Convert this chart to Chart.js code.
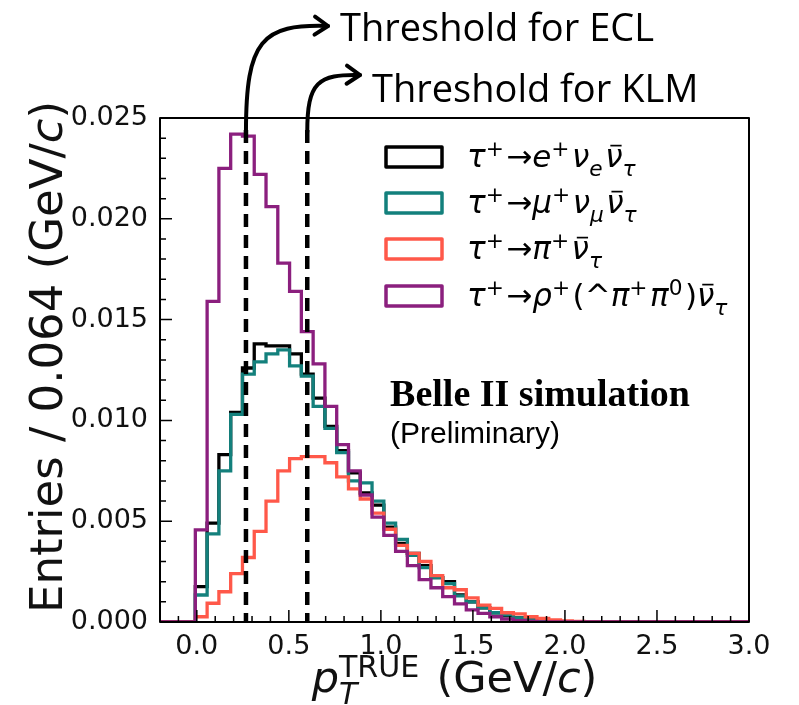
<!DOCTYPE html>
<html>
<head>
<meta charset="utf-8">
<script src="https://cdn.jsdelivr.net/npm/chart.js@4.4.1/dist/chart.umd.min.js"></script>
<style>
  html, body { margin: 0; padding: 0; background: #fff; }
  canvas { display: block; }
</style>
</head>
<body>
<canvas id="plot" width="799" height="705"></canvas>
<script>
// histogram bins: 50 bins of 0.064 GeV/c from -0.2 to 3.0
const binEdges = [-0.200, -0.136, -0.072, -0.008, 0.056, 0.120, 0.184, 0.248, 0.312, 0.376,
  0.440, 0.504, 0.568, 0.632, 0.696, 0.760, 0.824, 0.888, 0.952, 1.016,
  1.080, 1.144, 1.208, 1.272, 1.336, 1.400, 1.464, 1.528, 1.592, 1.656,
  1.720, 1.784, 1.848, 1.912, 1.976, 2.040, 2.104, 2.168, 2.232, 2.296,
  2.360, 2.424, 2.488, 2.552, 2.616, 2.680, 2.744, 2.808, 2.872, 2.936, 3.000];

// entries per bin
const eleVals = [0, 0, 0, 0.00175, 0.0049, 0.0083, 0.0104, 0.0126, 0.0138, 0.0137,
  0.0137, 0.0133, 0.0123, 0.0111, 0.0097, 0.0085, 0.0074, 0.0064, 0.0058, 0.0047,
  0.0039, 0.0034, 0.0028, 0.0022, 0.0020, 0.00134, 0.0010, 0.0007, 0.00045, 0.0003,
  0.0002, 0.0001, 0.00005, 0.00002, 0, 0, 0, 0, 0, 0,
  0, 0, 0, 0, 0, 0, 0, 0, 0, 0];
const muVals = [0, 0, 0, 0.00134, 0.00437, 0.0075, 0.0103, 0.0123, 0.0129, 0.0133,
  0.0135, 0.0127, 0.0122, 0.0107, 0.0096, 0.0084, 0.0070, 0.0069, 0.0060, 0.0049,
  0.0041, 0.0033, 0.0027, 0.0022, 0.0019, 0.0013, 0.0010, 0.0007, 0.00046, 0.00035,
  0.0002, 0.0001, 0.00005, 0.00002, 0, 0, 0, 0, 0, 0,
  0, 0, 0, 0, 0, 0, 0, 0, 0, 0];
const piVals = [0, 0, 0, 0.00026, 0.00093, 0.0015, 0.0024, 0.0032, 0.0045, 0.0060,
  0.0075, 0.0081, 0.0082, 0.0082, 0.0079, 0.0072, 0.0066, 0.0061, 0.0054, 0.0046,
  0.0038, 0.0034, 0.0030, 0.0023, 0.0017, 0.0016, 0.0012, 0.00084, 0.00068, 0.00046,
  0.0004, 0.00026, 0.00018, 0.0001, 0.00005, 0.00003, 0, 0, 0, 0,
  0, 0, 0, 0, 0, 0, 0, 0, 0, 0];
const rhoVals = [0, 0, 0, 0.00457, 0.0159, 0.0225, 0.0242, 0.0241, 0.0222, 0.0206,
  0.0178, 0.0164, 0.0144, 0.0128, 0.0107, 0.0088, 0.0075, 0.0063, 0.0052, 0.0043,
  0.0035, 0.0028, 0.0021, 0.0017, 0.00126, 0.0009, 0.0006, 0.00043, 0.00026, 0.00014,
  0.00007, 0.00003, 0, 0, 0, 0, 0, 0, 0, 0,
  0, 0, 0, 0, 0, 0, 0, 0, 0, 0];

const seriesNames = ['τ+ → e+ νe ν̄τ', 'τ+ → μ+ νμ ν̄τ', 'τ+ → π+ ν̄τ', 'τ+ → ρ+ (^π+ π0) ν̄τ'];
const seriesColors = ['#000000', '#13807c', '#ff5849', '#8b1f7e'];

const xTicks = [0.0, 0.5, 1.0, 1.5, 2.0, 2.5, 3.0];
const yTicks = [0.000, 0.005, 0.010, 0.015, 0.020, 0.025];

const thresholds = [0.267, 0.600];
const thresholdNames = ['Threshold for ECL', 'Threshold for KLM'];

// rich text pieces for the mathtext labels
const S = (t, o) => Object.assign({ t: t }, o || {});
const nuBarTau = [S('ν', { i: 1, bar: 1 }), S('τ', { i: 1, sub: 1 })];
const legendLabels = [
  [S('τ', { i: 1 }), S('+', { sup: 1 }), S('→'), S('e', { i: 1 }), S('+', { sup: 1 }), S('ν', { i: 1 }), S('e', { i: 1, sub: 1 })].concat(nuBarTau),
  [S('τ', { i: 1 }), S('+', { sup: 1 }), S('→'), S('μ', { i: 1 }), S('+', { sup: 1 }), S('ν', { i: 1 }), S('μ', { i: 1, sub: 1 })].concat(nuBarTau),
  [S('τ', { i: 1 }), S('+', { sup: 1 }), S('→'), S('π', { i: 1 }), S('+', { sup: 1 })].concat(nuBarTau),
  [S('τ', { i: 1 }), S('+', { sup: 1 }), S('→'), S('ρ', { i: 1 }), S('+', { sup: 1 }), S('(^'), S('π', { i: 1 }), S('+', { sup: 1 }),
    S('π', { i: 1 }), S('0', { sup: 1 }), S(')')].concat(nuBarTau)
];
const xTitle = [S('p', { i: 1 }), S('T', { i: 1, sub: 1, stay: 1 }), S('TRUE', { sup: 1 }), S(' (GeV/'), S('c', { i: 1 }), S(')')];
const yTitle = [S('Entries / 0.064 (GeV/'), S('c', { i: 1 }), S(')')];

function segFont(s, size) {
  const sz = (s.sup || s.sub) ? size * 0.7 : size;
  return (s.i ? 'italic ' : '') + sz + 'px "DejaVu Sans"';
}
function segAdvance(ctx, s, size) {
  ctx.font = segFont(s, size);
  const w = ctx.measureText(s.t).width;
  return s.stay ? 0 : w + ((s.sup || s.sub) ? size * 0.08 : 0);
}
function richWidth(ctx, segs, size) {
  return segs.reduce((w, s) => w + segAdvance(ctx, s, size), 0);
}
function drawRich(ctx, segs, x, y, size, align) {
  let cx = align === 'center' ? x - richWidth(ctx, segs, size) / 2 : x;
  ctx.textAlign = 'left';
  ctx.textBaseline = 'alphabetic';
  segs.forEach(s => {
    ctx.font = segFont(s, size);
    const dy = s.sup ? -size * 0.36 : (s.sub ? size * 0.28 : 0);
    ctx.fillText(s.t, cx, y + dy);
    const w = ctx.measureText(s.t).width;
    if (s.bar) {
      ctx.save();
      ctx.lineWidth = size * 0.055;
      ctx.beginPath();
      ctx.moveTo(cx + w * 0.3, y - size * 0.69);
      ctx.lineTo(cx + w * 0.95, y - size * 0.69);
      ctx.stroke();
      ctx.restore();
    }
    cx += segAdvance(ctx, s, size);
  });
}

function stepPoints(vals) {
  const pts = [{ x: binEdges[0], y: 0 }];
  vals.forEach((v, i) => pts.push({ x: binEdges[i], y: v }));
  pts.push({ x: binEdges[vals.length], y: 0 });
  return pts;
}

function arrow(ctx, pts) {
  const [p0, c1, c2, p1] = pts;
  ctx.beginPath();
  ctx.moveTo(p0[0], p0[1]);
  ctx.bezierCurveTo(c1[0], c1[1], c2[0], c2[1], p1[0], p1[1]);
  ctx.stroke();
  const ang = Math.atan2(p1[1] - c2[1], p1[0] - c2[0]);
  const L = 16;
  ctx.beginPath();
  ctx.moveTo(p1[0] - L * Math.cos(ang - 0.6), p1[1] - L * Math.sin(ang - 0.6));
  ctx.lineTo(p1[0], p1[1]);
  ctx.lineTo(p1[0] - L * Math.cos(ang + 0.6), p1[1] - L * Math.sin(ang + 0.6));
  ctx.stroke();
}

const decorations = {
  id: 'decorations',
  afterDatasetsDraw(chart) {
    const { ctx, chartArea: a, scales: { x, y } } = chart;
    ctx.save();
    ctx.strokeStyle = '#000';
    ctx.fillStyle = '#000';

    // threshold lines
    ctx.lineWidth = 4.5;
    ctx.setLineDash([13, 8]);
    thresholds.forEach(t => {
      const px = x.getPixelForValue(t);
      ctx.beginPath();
      ctx.moveTo(px, a.top + 12);
      ctx.lineTo(px, a.bottom);
      ctx.stroke();
    });
    ctx.setLineDash([]);

    // arrows up to the threshold labels
    ctx.lineWidth = 4;
    ctx.lineCap = 'round';
    ctx.lineJoin = 'round';
    const e = x.getPixelForValue(thresholds[0]);
    const k = x.getPixelForValue(thresholds[1]);
    arrow(ctx, [[e, a.top + 14], [e, 40], [262, 24], [328, 26]]);
    arrow(ctx, [[k, a.top + 14], [k, 82], [318, 74], [360, 75]]);
    ctx.lineCap = 'butt';

    ctx.font = '38px "Open Sans"';
    ctx.textAlign = 'left';
    ctx.textBaseline = 'alphabetic';
    ctx.fillText(thresholdNames[0], 340, 41);
    ctx.fillText(thresholdNames[1], 372, 102);

    // frame
    ctx.lineWidth = 2;
    ctx.strokeRect(a.left, a.top, a.right - a.left, a.bottom - a.top);

    // inward ticks
    ctx.lineWidth = 1.5;
    ctx.beginPath();
    for (let v = -0.2; v <= 3.0001; v += 0.1) {
      const px = x.getPixelForValue(v);
      const major = xTicks.some(t => Math.abs(t - v) < 1e-6);
      ctx.moveTo(px, a.bottom);
      ctx.lineTo(px, a.bottom - (major ? 12 : 6));
    }
    for (let v = 0; v <= 0.0250001; v += 0.001) {
      const py = y.getPixelForValue(v);
      const major = yTicks.some(t => Math.abs(t - v) < 1e-7);
      ctx.moveTo(a.left, py);
      ctx.lineTo(a.left + (major ? 12 : 6), py);
    }
    ctx.stroke();

    // legend
    const rows = [157, 203, 249, 296];
    chart.data.datasets.forEach(ds => {
      const j = ds.idx;
      ctx.lineWidth = 3.5;
      ctx.strokeStyle = ds.borderColor;
      ctx.strokeRect(386, rows[j] - 10, 56, 20);
      ctx.fillStyle = '#000';
      ctx.strokeStyle = '#000';
      drawRich(ctx, legendLabels[j], 467, rows[j] + 10, 31, 'left');
    });

    // experiment label
    ctx.fillStyle = '#000';
    ctx.font = 'bold 38px "Liberation Serif"';
    ctx.fillText('Belle II simulation', x.getPixelForValue(1.05), y.getPixelForValue(0.0107));
    ctx.font = '30px "Liberation Sans"';
    ctx.fillText('(Preliminary)', x.getPixelForValue(1.05), y.getPixelForValue(0.0089));

    // axis titles
    ctx.fillStyle = '#111';
    ctx.strokeStyle = '#111';
    drawRich(ctx, xTitle, (a.left + a.right) / 2, 692, 43, 'center');
    ctx.save();
    ctx.translate(62, 357);
    ctx.rotate(-Math.PI / 2);
    drawRich(ctx, yTitle, 0, 0, 45, 'center');
    ctx.restore();

    ctx.restore();
  }
};

const seriesVals = [eleVals, muVals, piVals, rhoVals];
const datasets = seriesVals.map((vals, i) => ({
  label: seriesNames[i],
  idx: i,
  data: stepPoints(vals),
  borderColor: seriesColors[i],
  backgroundColor: 'transparent',
  borderWidth: 3.3,
  stepped: true,
  pointRadius: 0,
  fill: false,
  order: 4 - i
}));

Chart.defaults.font.family = '"DejaVu Sans"';
Chart.defaults.color = '#111';

new Chart(document.getElementById('plot'), {
  type: 'line',
  data: { datasets: datasets },
  options: {
    responsive: false,
    animation: false,
    layout: { padding: { top: 118, right: 50, left: 0, bottom: 0 } },
    plugins: { legend: { display: false }, tooltip: { enabled: false } },
    scales: {
      x: {
        type: 'linear',
        min: -0.2,
        max: 3.0,
        grid: { display: false, drawTicks: false },
        border: { display: false },
        afterBuildTicks: s => { s.ticks = xTicks.map(v => ({ value: v })); },
        afterFit: s => { s.height = 83; },
        ticks: { padding: 9, maxRotation: 0, autoSkip: false, font: { size: 27 }, callback: v => v.toFixed(1) }
      },
      y: {
        type: 'linear',
        min: 0,
        max: 0.025,
        grid: { display: false, drawTicks: false },
        border: { display: false },
        afterBuildTicks: s => { s.ticks = yTicks.map(v => ({ value: v })); },
        afterFit: s => { s.width = 160; },
        ticks: { padding: 12, font: { size: 27 }, callback: v => v.toFixed(1 + 2) }
      }
    }
  },
  plugins: [decorations]
});
</script>
</body>
</html>
